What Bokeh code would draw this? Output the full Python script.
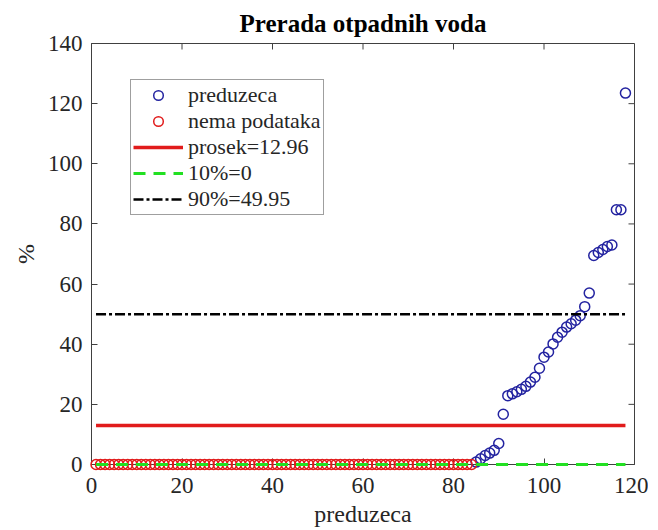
from bokeh.plotting import figure
from bokeh.models import Range1d, FixedTicker, Legend, LegendItem
from bokeh.embed import file_html
from bokeh.resources import INLINE

# ---- data ----
title_text = "Prerada otpadnih voda"
x_label = "preduzeca"
y_label = "%"

# companies without data (drawn at 0)
nodata_x = list(range(1, 85))
nodata_y = [0] * 84

# companies with data
comp_x = list(range(85, 119))
comp_y = [0.8, 1.9, 3.0, 3.8, 4.7, 7.0, 16.7,
          22.9, 23.5, 24.2, 25.0, 26.0, 27.4, 29.0, 32.0, 35.7, 37.4,
          40.1, 42.3, 44.0, 45.7, 46.8, 48.0, 49.5, 52.5,
          57.0, 69.5, 70.5, 71.5, 72.5, 73.0, 84.7, 84.7, 123.5]

mean_val = 12.96
p10_val = 0
p90_val = 49.95
line_x = [1, 118]

labels = ["preduzeca", "nema podataka", "prosek=12.96", "10%=0", "90%=49.95"]
x_ticks = [0, 20, 40, 60, 80, 100, 120]
y_ticks = [0, 20, 40, 60, 80, 100, 120, 140]
x_min, x_max = 0, 120
y_min, y_max = 0, 140

FONT = "Liberation Serif"
AX = "#404040"
TXT = "#262626"
BLUE = "#2323a0"
RED = "#e11b1b"
GREEN = "#22e022"

FW, FH = 543, 421
p = figure(frame_width=FW, frame_height=FH,
           x_range=Range1d(x_min, x_max), y_range=Range1d(y_min, y_max),
           output_backend="svg", toolbar_location=None,
           min_border_left=91, min_border_right=14,
           min_border_top=43, min_border_bottom=64)
p.background_fill_color = "white"
p.border_fill_color = "white"
p.outline_line_color = AX
p.grid.visible = False

p.title.text = title_text
p.title.align = "center"
p.title.text_font = FONT
p.title.text_font_style = "bold"
p.title.text_font_size = "25px"
p.title.text_color = "black"
p.title.offset = 0
p.title.standoff = 14

for ax, ticks in ((p.xaxis[0], x_ticks), (p.yaxis[0], y_ticks)):
    ax.ticker = FixedTicker(ticks=ticks)
    ax.major_tick_in = 6
    ax.major_tick_out = 0
    ax.minor_tick_line_color = None
    ax.axis_line_color = AX
    ax.major_tick_line_color = AX
    ax.major_label_text_font = FONT
    ax.major_label_text_font_size = "23px"
    ax.major_label_text_color = TXT
    ax.axis_label_text_font = FONT
    ax.axis_label_text_font_style = "normal"
    ax.axis_label_text_color = TXT

p.xaxis[0].axis_label = x_label
p.xaxis[0].axis_label_text_font_size = "24px"
p.xaxis[0].major_label_standoff = 13
p.xaxis[0].axis_label_standoff = 5
p.yaxis[0].axis_label = y_label
p.yaxis[0].axis_label_text_font_size = "24px"
p.yaxis[0].major_label_standoff = 9
p.yaxis[0].axis_label_standoff = 6

# box ticks on the top and right edges (same ticks, pointing inward, 6 px long)
tick_dy = 6 * (y_max - y_min) / FH
tick_dx = 6 * (x_max - x_min) / FW
p.segment(x0=x_ticks, y0=[y_max] * len(x_ticks), x1=x_ticks,
          y1=[y_max - tick_dy] * len(x_ticks), line_color=AX, line_width=1)
p.segment(x0=[x_max] * len(y_ticks), y0=y_ticks, x1=[x_max - tick_dx] * len(y_ticks),
          y1=y_ticks, line_color=AX, line_width=1)

r_blue = p.scatter(comp_x, comp_y, marker="circle", size=10, fill_color=None,
                   line_color=BLUE, line_width=1.5, level="overlay")
r_red = p.scatter(nodata_x, nodata_y, marker="circle", size=10, fill_color=None,
                  line_color=RED, line_width=1.5, level="overlay")
r_mean = p.line(line_x, [mean_val, mean_val], line_color=RED, line_width=3.5,
                level="overlay")
r_p10 = p.line(line_x, [p10_val, p10_val], line_color=GREEN, line_width=3,
               line_dash="12 8", level="overlay")
r_p90 = p.line(line_x, [p90_val, p90_val], line_color="black", line_width=2.5,
               line_dash="10 3 3 3", level="overlay")

legend = Legend(items=[LegendItem(label=labels[0], renderers=[r_blue]),
                       LegendItem(label=labels[1], renderers=[r_red]),
                       LegendItem(label=labels[2], renderers=[r_mean]),
                       LegendItem(label=labels[3], renderers=[r_p10]),
                       LegendItem(label=labels[4], renderers=[r_p90])],
                location=(39, 249))
legend.label_text_font = FONT
legend.label_text_font_size = "22px"
legend.label_text_color = TXT
legend.glyph_width = 50
legend.glyph_height = 24
legend.label_height = 24
legend.spacing = 0
legend.padding = 2
legend.margin = 0
legend.label_standoff = 5
legend.border_line_color = AX
legend.border_line_width = 1
legend.background_fill_color = "white"
p.add_layout(legend, "center")

open("out.html", "w").write(file_html(p, INLINE))
